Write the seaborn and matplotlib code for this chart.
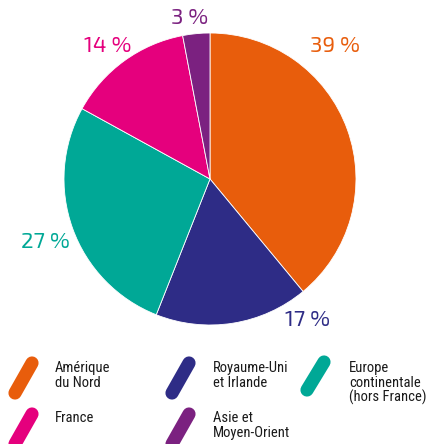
import matplotlib
matplotlib.use("Agg")
import matplotlib.pyplot as plt
import seaborn as sns
from matplotlib.lines import Line2D
from matplotlib import font_manager as fm

sns.set_theme(style="white")

categories = ["Amérique\ndu Nord", "Royaume-Uni\net Irlande", "Europe\ncontinentale\n(hors France)",
              "France", "Asie et\nMoyen-Orient"]
values = [39, 17, 27, 14, 3]
pct_labels = ["39 %", "17 %", "27 %", "14 %", "3 %"]
colors = ["#E85D0C", "#2E2C86", "#00A896", "#E5007D", "#7B2180"]

names = {f.name for f in fm.fontManager.ttflist}

def pick(cands, default="DejaVu Sans"):
    for c in cands:
        if c in names:
            return c
    return default

legend_font = pick(["Roboto Condensed", "Fira Sans Condensed", "Archivo Narrow"])
pct_font = pick(["Exo 2", "Exo", "Roboto"])
plt.rcParams['font.family'] = [legend_font, 'DejaVu Sans']

W, H = 433, 444
fig = plt.figure(figsize=(W / 100, H / 100), dpi=100)

cx, cy, r = 210, 179, 146
ax = fig.add_axes([(cx - r) / W, 1 - (cy + r) / H, 2 * r / W, 2 * r / H])
wedges, _ = ax.pie(values, colors=colors, startangle=90, counterclock=False,
                   wedgeprops=dict(linewidth=0.6, edgecolor="white"))
ax.set_aspect("equal")
ax.set_xlim(-1, 1)
ax.set_ylim(-1, 1)

label_pos = [(335, 47), (308, 320), (45, 242), (108, 46), (190, 18)]
for (x, y), t, c in zip(label_pos, pct_labels, colors):
    fig.text(x / W, 1 - y / H, t, color=c, fontsize=16, ha="center", va="center",
             family=[pct_font, 'DejaVu Sans'], weight="semibold")

leg = [((15, 393), (32, 363), 55, 361),
       ((172, 393), (189, 363), 213, 361),
       ((307, 390), (324, 362), 349, 361),
       ((15, 444), (32, 414), 55, 411),
       ((172, 444), (189, 414), 213, 411)]
for (p0, p1, tx, ty), lab, c in zip(leg, categories, colors):
    fig.add_artist(Line2D([p0[0] / W, p1[0] / W], [1 - p0[1] / H, 1 - p1[1] / H],
                          transform=fig.transFigure, color=c, linewidth=9.5,
                          solid_capstyle="round"))
    fig.text(tx / W, 1 - ty / H, lab, color="#1a1a1a", fontsize=10.5, ha="left", va="top",
             linespacing=1.05)

fig.savefig("out.png", dpi=100, facecolor="white")
